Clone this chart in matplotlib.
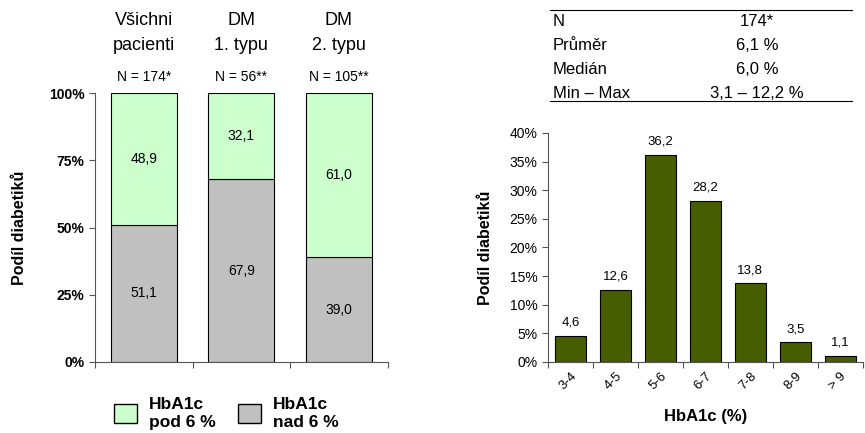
import matplotlib
matplotlib.use("Agg")
import matplotlib.pyplot as plt
import numpy as np
from matplotlib.patches import Patch

plt.rcParams['font.family'] = ['Liberation Sans', 'DejaVu Sans']

# left chart: share of patients below / above 6 % HbA1c
groups = ['Všichni\npacienti', 'DM\n1. typu', 'DM\n2. typu']
group_n = ['N = 174*', 'N = 56**', 'N = 105**']
above_6 = [51.1, 67.9, 39.0]
below_6 = [48.9, 32.1, 61.0]

# right chart: distribution of HbA1c
bins = ['3-4', '4-5', '5-6', '6-7', '7-8', '8-9', '> 9']
shares = [4.6, 12.6, 36.2, 28.2, 13.8, 3.5, 1.1]

# summary table
stat_names = ['N', 'Průměr', 'Medián', 'Min – Max']
stat_values = ['174*', '6,1 %', '6,0 %', '3,1 – 12,2 %']

green = '#CCFFCC'
grey = '#C0C0C0'
olive = '#475E00'


def fmt(v):
    return f'{v:.1f}'.replace('.', ',')


fig = plt.figure(figsize=(8.65, 4.33), dpi=100)

# ---- left stacked bars ----
ax1 = fig.add_axes([0.110, 0.164, 0.338, 0.621])
x = np.arange(len(groups))
ax1.bar(x, above_6, width=0.68, color=grey, edgecolor='black', linewidth=0.8)
ax1.bar(x, below_6, bottom=above_6, width=0.68, color=green,
        edgecolor='black', linewidth=0.8)
for i in x:
    ax1.text(i, above_6[i] / 2, fmt(above_6[i]), ha='center', va='center', fontsize=10)
    ax1.text(i, above_6[i] + below_6[i] / 2, fmt(below_6[i]),
             ha='center', va='center', fontsize=10)
    ax1.text(i, 103.5, group_n[i], ha='center', va='bottom', fontsize=10)
    ax1.text(i, 114.5, groups[i], ha='center', va='bottom', fontsize=13,
             linespacing=1.6)
ax1.set_xlim(-0.5, len(groups) - 0.5)
ax1.set_ylim(0, 100)
ax1.set_yticks([0, 25, 50, 75, 100])
ax1.set_yticklabels(['0%', '25%', '50%', '75%', '100%'], fontweight='bold', fontsize=10)
ax1.set_xticks(np.arange(len(groups) + 1) - 0.5)
ax1.set_xticklabels([])
ax1.tick_params(length=4, color='#555555')
for s in ['top', 'right']:
    ax1.spines[s].set_visible(False)
for s in ['left', 'bottom']:
    ax1.spines[s].set_color('#555555')
ax1.set_ylabel('Podíl diabetiků', fontweight='bold', fontsize=11.5, labelpad=16)

handles = [Patch(facecolor=green, edgecolor='black', label='HbA1c\npod 6 %'),
           Patch(facecolor=grey, edgecolor='black', label='HbA1c\nnad 6 %')]
fig.legend(handles=handles, loc='center', bbox_to_anchor=(0.262, 0.045), ncol=2,
           frameon=False, prop={'weight': 'bold', 'size': 12.5},
           handlelength=1.3, handleheight=1.3, columnspacing=1.3,
           handletextpad=0.7, labelspacing=0.2)

# ---- right histogram ----
ax2 = fig.add_axes([0.6335, 0.164, 0.364, 0.529])
xb = np.arange(len(bins))
ax2.bar(xb, shares, width=0.7, color=olive, edgecolor='black', linewidth=0.8)
for i in xb:
    ax2.text(i, shares[i] + 1.2, fmt(shares[i]), ha='center', va='bottom', fontsize=9.5)
ax2.set_xlim(-0.5, len(bins) - 0.5)
ax2.set_ylim(0, 40)
ax2.set_yticks(range(0, 41, 5))
ax2.set_yticklabels([f'{v}%' for v in range(0, 41, 5)], fontsize=10)
ax2.set_xticks(np.arange(len(bins) + 1) - 0.5)
ax2.set_xticklabels([])
ax2.set_xticks(xb, minor=True)
ax2.set_xticklabels(bins, minor=True, rotation=45, ha='right', rotation_mode='anchor',
                    fontsize=9.5)
ax2.tick_params(axis='x', which='minor', length=0, pad=6)
ax2.tick_params(which='major', length=4, color='#555555')
for s in ['top', 'right']:
    ax2.spines[s].set_visible(False)
for s in ['left', 'bottom']:
    ax2.spines[s].set_color('#555555')
ax2.set_ylabel('Podíl diabetiků', fontweight='bold', fontsize=11.5, labelpad=12)
ax2.set_xlabel('HbA1c (%)', fontweight='bold', fontsize=12, labelpad=12)

# ---- summary table ----
tx0, tx1 = 550 / 865, 852 / 865
fig.add_artist(plt.Line2D([tx0, tx1], [1 - 10 / 433] * 2, color='black', lw=0.8))
fig.add_artist(plt.Line2D([tx0, tx1], [1 - 101 / 433] * 2, color='black', lw=0.8))
row_y = [21, 45, 70, 94]
for name, val, yy in zip(stat_names, stat_values, row_y):
    fig.text(553 / 865, 1 - yy / 433, name, ha='left', va='center', fontsize=12)
    fig.text(757 / 865, 1 - yy / 433, val, ha='center', va='center', fontsize=12)

fig.savefig('out.png', dpi=100)
